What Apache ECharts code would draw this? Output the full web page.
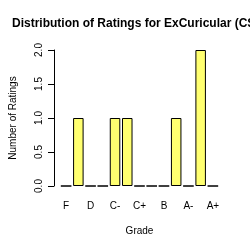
<!DOCTYPE html>
<html>
<head>
<meta charset="utf-8">
<script src="https://cdn.jsdelivr.net/npm/echarts@6/dist/echarts.min.js"></script>
<style>
  html, body { margin: 0; padding: 0; background: #fff; }
  #chart { width: 250px; height: 250px; }
</style>
</head>
<body>
<div id="chart"></div>
<script>
// 成绩等级（坐标轴只显示每隔一个）
const grades = ['F', 'D-', 'D', 'D+', 'C-', 'C', 'C+', 'B-', 'B', 'B+', 'A-', 'A', 'A+'];
// 每个等级的评分人数
const counts = [0, 1, 0, 0, 1, 1, 0, 0, 0, 1, 0, 2, 0];
const yTicks = [0, 0.5, 1, 1.5, 2];

const chart = echarts.init(document.getElementById('chart'));
const font = 'Liberation Sans, Arial, sans-serif';

chart.setOption({
    animation: false,
    title: {
        text: 'Distribution of Ratings for ExCuricular (CS 1)',
        left: 12,
        top: 18,
        padding: 0,
        textStyle: { fontFamily: font, fontSize: 12, fontWeight: 'bold', color: '#000' }
    },
    grid: { left: 55, right: 31, top: 50, bottom: 64 },
    xAxis: {
        type: 'category',
        data: grades,
        name: 'Grade',
        nameLocation: 'middle',
        nameGap: 40,
        nameTextStyle: { fontFamily: font, fontSize: 10, color: '#000' },
        axisLine: { show: false },
        axisTick: { show: false },
        axisLabel: {
            interval: 1,
            margin: 15,
            fontFamily: font,
            fontSize: 10,
            color: '#000'
        }
    },
    yAxis: {
        type: 'value',
        min: yTicks[0],
        max: yTicks[yTicks.length - 1],
        interval: 0.5,
        offset: 6,
        name: 'Number of Ratings',
        nameLocation: 'middle',
        nameGap: 36,
        nameTextStyle: { fontFamily: font, fontSize: 10, color: '#000' },
        splitLine: { show: false },
        axisLine: { show: true, lineStyle: { color: '#000', width: 1 } },
        axisTick: { show: true, length: 6, lineStyle: { color: '#000' } },
        axisLabel: {
            rotate: 90,
            margin: 10,
            fontFamily: font,
            fontSize: 10,
            color: '#000',
            formatter: v => v.toFixed(1)
        }
    },
    series: [{
        type: 'bar',
        data: counts,
        barCategoryGap: '14%',
        itemStyle: { color: '#ffff70', borderColor: '#000', borderWidth: 1 }
    }]
});
</script>
</body>
</html>
